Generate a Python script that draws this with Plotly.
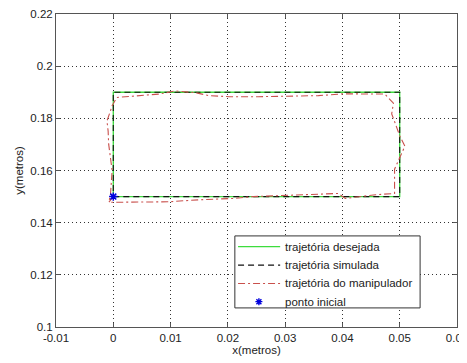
import plotly.graph_objects as go

# Data
des_x = [0, 0.05, 0.05, 0, 0]
des_y = [0.15, 0.15, 0.19, 0.19, 0.15]
sim_x = [0, 0.05, 0.05, 0, 0]
sim_y = [0.15, 0.15, 0.19, 0.19, 0.15]
man_x = [0.0, -0.0008, -0.0005, -0.0003, -0.0002, -0.0005, -0.0008, -0.0009, -0.0011,
         -0.0005, -0.0002, 0.0006, 0.004, 0.008, 0.0108, 0.0144, 0.0167, 0.0202, 0.0253,
         0.0358, 0.0403, 0.0446, 0.0474, 0.0489, 0.0486, 0.0489, 0.0500, 0.0509, 0.0500,
         0.0491, 0.0491, 0.0491, 0.0458, 0.0428, 0.0405, 0.0393, 0.0298, 0.0245, 0.0211,
         0.0153, 0.0095, 0.0, -0.0008]
man_y = [0.15, 0.1478, 0.1505, 0.1557, 0.1600, 0.1650, 0.1700, 0.1751, 0.1790,
         0.1828, 0.1848, 0.1880, 0.1885, 0.1893, 0.1905, 0.1898, 0.1887, 0.1883, 0.1883,
         0.1887, 0.1894, 0.1892, 0.1893, 0.1858, 0.1817, 0.1800, 0.1733, 0.1693, 0.1650,
         0.1605, 0.1527, 0.1512, 0.1507, 0.1500, 0.1493, 0.1512, 0.1506, 0.1500, 0.1493,
         0.1488, 0.1480, 0.1480, 0.1478]
start_x = [0]
start_y = [0.15]

x_ticks = [-0.01, 0, 0.01, 0.02, 0.03, 0.04, 0.05, 0.06]
x_labels = ["-0.01", "0", "0.01", "0.02", "0.03", "0.04", "0.05", "0.06"]
y_ticks = [0.1, 0.12, 0.14, 0.16, 0.18, 0.2, 0.22]
y_labels = ["0.1", "0.12", "0.14", "0.16", "0.18", "0.2", "0.22"]

names = ["trajetória desejada", "trajetória simulada", "trajetória do manipulador", "ponto inicial"]

GREEN = "#3ddc3d"
BLACK = "#111111"
RED = "#c9504c"
BLUE = "#0000dd"
DASH_SIM = "6px,4px"
DASH_MAN = "7px,3px,2px,3px"

fig = go.Figure()
fig.add_trace(go.Scatter(x=des_x, y=des_y, mode="lines", name=names[0],
                         line=dict(color=GREEN, width=1.3)))
fig.add_trace(go.Scatter(x=sim_x, y=sim_y, mode="lines", name=names[1],
                         line=dict(color=BLACK, width=1.1, dash=DASH_SIM)))
fig.add_trace(go.Scatter(x=man_x, y=man_y, mode="lines", name=names[2],
                         line=dict(color=RED, width=1.1, dash=DASH_MAN)))
fig.add_trace(go.Scatter(x=start_x, y=start_y, mode="markers", name=names[3],
                         marker=dict(symbol="asterisk", size=7, color=BLUE,
                                     line=dict(color=BLUE, width=1.5))))

FONT = "Arial"
TXT = "#222222"
axis_common = dict(showline=True, linecolor="#555555", linewidth=1, mirror="ticks",
                   ticks="inside", ticklen=4, tickcolor="#555555", automargin=False,
                   showgrid=True, gridcolor="#333333", griddash="1px,3px", gridwidth=1,
                   zeroline=False, ticklabeloverflow="allow",
                   tickfont=dict(family=FONT, size=11.5, color=TXT))

fig.update_xaxes(range=[-0.01, 0.06], tickvals=x_ticks, ticktext=x_labels,
                 title=dict(text="x(metros)", font=dict(family=FONT, size=11.5, color=TXT), standoff=2),
                 **axis_common)
fig.update_yaxes(range=[0.1, 0.22], tickvals=y_ticks, ticktext=y_labels,
                 title=dict(text="y(metros)", font=dict(family=FONT, size=11.5, color=TXT), standoff=4),
                 **axis_common)

# ---- custom legend (MATLAB-like compact box), positioned in paper coordinates ----
box_x0, box_x1, box_y0, box_y1 = 0.446, 0.908, 0.061, 0.291
row_y = [0.257, 0.198, 0.139, 0.081]
line_x0, line_x1, text_x, star_x = 0.454, 0.559, 0.566, 0.506

shapes = [dict(type="rect", xref="paper", yref="paper", x0=box_x0, x1=box_x1, y0=box_y0, y1=box_y1,
               fillcolor="white", line=dict(color="#333333", width=1), layer="above")]
styles = [dict(color=GREEN, width=1.3), dict(color=BLACK, width=1.3, dash=DASH_SIM),
          dict(color=RED, width=1.1, dash=DASH_MAN)]
for ry, st in zip(row_y[:3], styles):
    shapes.append(dict(type="line", xref="paper", yref="paper", x0=line_x0, x1=line_x1,
                       y0=ry, y1=ry, line=st, layer="above"))
# asterisk key for the marker, drawn in pixels around its anchor
shapes.append(dict(type="path", xref="paper", yref="paper", xsizemode="pixel", ysizemode="pixel",
                   xanchor=star_x, yanchor=row_y[3],
                   path="M -3.5 0 L 3.5 0 M 0 -3.5 L 0 3.5 M -2.5 -2.5 L 2.5 2.5 M -2.5 2.5 L 2.5 -2.5",
                   line=dict(color=BLUE, width=1.4), layer="above"))
annotations = [dict(xref="paper", yref="paper", x=text_x, y=ry, text=nm, showarrow=False,
                    xanchor="left", yanchor="middle", font=dict(family=FONT, size=11.5, color=TXT))
               for ry, nm in zip(row_y, names)]

# the page body has an 8px margin, so the figure is sized to fit inside the window
fig.update_layout(
    width=459, height=355,
    margin=dict(l=48, r=10, t=6, b=36),
    paper_bgcolor="white", plot_bgcolor="white",
    showlegend=False,
    shapes=shapes, annotations=annotations,
)

fig.write_html("out.html")
